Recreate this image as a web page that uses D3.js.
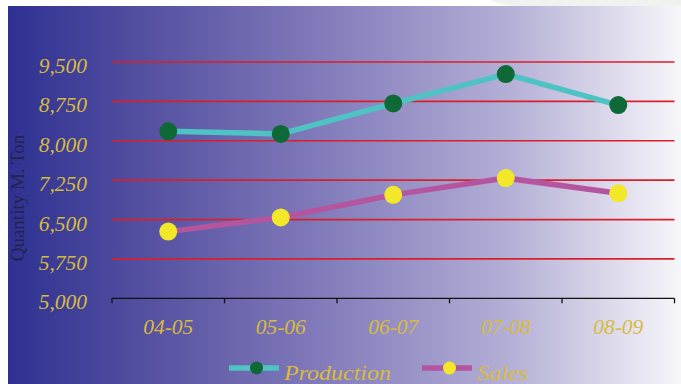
<!DOCTYPE html>
<html>
<head>
<meta charset="utf-8">
<script src="https://cdn.jsdelivr.net/npm/d3@7"></script>
<style>
  html, body { margin: 0; padding: 0; background: #ffffff; }
  svg { display: block; }
</style>
</head>
<body>
<svg id="chart" width="681" height="384"></svg>
<script>
// Financial years on the x axis
const years = ["04-05", "05-06", "06-07", "07-08", "08-09"];
// Quantities in metric tons
const production = [8180, 8130, 8710, 9270, 8680];
const sales = [6270, 6540, 6970, 7290, 7000];
// Y axis tick values
const yTicks = [5000, 5750, 6500, 7250, 8000, 8750, 9500];

const svg = d3.select("#chart");
const W = 681, H = 384;
const m = { left: 112, right: 674.5, top: 62, bottom: 298.3 };

// Background panel with horizontal blue-to-white gradient
const defs = svg.append("defs");
const grad = defs.append("linearGradient").attr("id", "bg").attr("x1", "0").attr("x2", "1").attr("y1", "0").attr("y2", "0");
[[0, "#2e3192"], [0.24, "#5b56a4"], [0.5, "#8781be"], [0.75, "#b5b0d6"], [0.97, "#efeef6"], [1, "#f6f6fa"]]
  .forEach(([o, c]) => grad.append("stop").attr("offset", o).attr("stop-color", c));

svg.append("path")
  .attr("d", "M490,0 C500,4 505,6 515,6 L681,6 L681,0 Z")
  .attr("fill", "#f0f2f0");
svg.append("rect").attr("x", 8).attr("y", 6).attr("width", W - 8).attr("height", H - 6).attr("fill", "url(#bg)");

const x = d3.scaleBand().domain(years).range([m.left, m.right]);
const y = d3.scaleLinear().domain([5000, 9500]).range([m.bottom, m.top]);
const cx = d => x(d) + x.bandwidth() / 2;

const font = "'Liberation Serif', 'Times New Roman', serif";
const gold = "#d8bb3c";

// Horizontal grid lines
svg.append("g").selectAll("line")
  .data(yTicks.filter(v => v > 5000))
  .join("line")
  .attr("x1", m.left).attr("x2", m.right)
  .attr("y1", d => y(d)).attr("y2", d => y(d))
  .attr("stroke", "#d8202a").attr("stroke-width", 1.7);

// X axis line with ticks between categories
const xAxis = svg.append("g").attr("transform", `translate(0,${m.bottom})`);
xAxis.append("line").attr("x1", m.left).attr("x2", m.right).attr("stroke", "#111").attr("stroke-width", 1.3);
const bounds = years.map(d => x(d)).concat([m.right]);
xAxis.selectAll("line.tick").data(bounds).join("line")
  .attr("class", "tick")
  .attr("x1", d => d).attr("x2", d => d).attr("y1", 0).attr("y2", 5)
  .attr("stroke", "#111").attr("stroke-width", 1.3);
xAxis.selectAll("text").data(years).join("text")
  .attr("x", d => cx(d)).attr("y", 35.5)
  .attr("text-anchor", "middle")
  .attr("font-family", font).attr("font-style", "italic").attr("font-size", 21.5)
  .attr("fill", gold)
  .text(d => d);

// Y tick labels
svg.append("g").selectAll("text").data(yTicks).join("text")
  .attr("x", 87).attr("y", d => y(d) + 11)
  .attr("text-anchor", "end")
  .attr("font-family", font).attr("font-style", "italic").attr("font-size", 21.5)
  .attr("fill", gold)
  .text(d => d3.format(",")(d));

// Y axis title
svg.append("text")
  .attr("transform", "translate(24,198) rotate(-90)")
  .attr("text-anchor", "middle")
  .attr("font-family", font).attr("font-size", 19)
  .attr("fill", "#23234e")
  .text("Quantity M. Ton");

// Series
const series = [
  { name: "Production", values: production, line: "#4fc2c4", dot: "#0f6936", width: 107 },
  { name: "Sales", values: sales, line: "#b5559f", dot: "#f2e829", width: 51 }
];
const line = d3.line().x((d, i) => cx(years[i])).y(d => y(d));
series.forEach(s => {
  svg.append("path").datum(s.values)
    .attr("d", line).attr("fill", "none")
    .attr("stroke", s.line).attr("stroke-width", 5.5).attr("stroke-linejoin", "round");
  svg.append("g").selectAll("circle").data(s.values).join("circle")
    .attr("cx", (d, i) => cx(years[i])).attr("cy", d => y(d)).attr("r", 9)
    .attr("fill", s.dot);
});

// Legend
const legendX = [229, 422];
series.forEach((s, i) => {
  const g = svg.append("g").attr("transform", `translate(${legendX[i]},368)`);
  g.append("line").attr("x1", 0).attr("x2", 50).attr("stroke", s.line).attr("stroke-width", 5.5);
  g.append("circle").attr("cx", 27.5).attr("cy", 0).attr("r", 6.5).attr("fill", s.dot);
  g.append("text").attr("x", 55).attr("y", 12)
    .attr("font-family", font).attr("font-style", "italic").attr("font-size", 21.5)
    .attr("textLength", s.width).attr("lengthAdjust", "spacingAndGlyphs")
    .attr("fill", gold).text(s.name);
});
</script>
</body>
</html>
